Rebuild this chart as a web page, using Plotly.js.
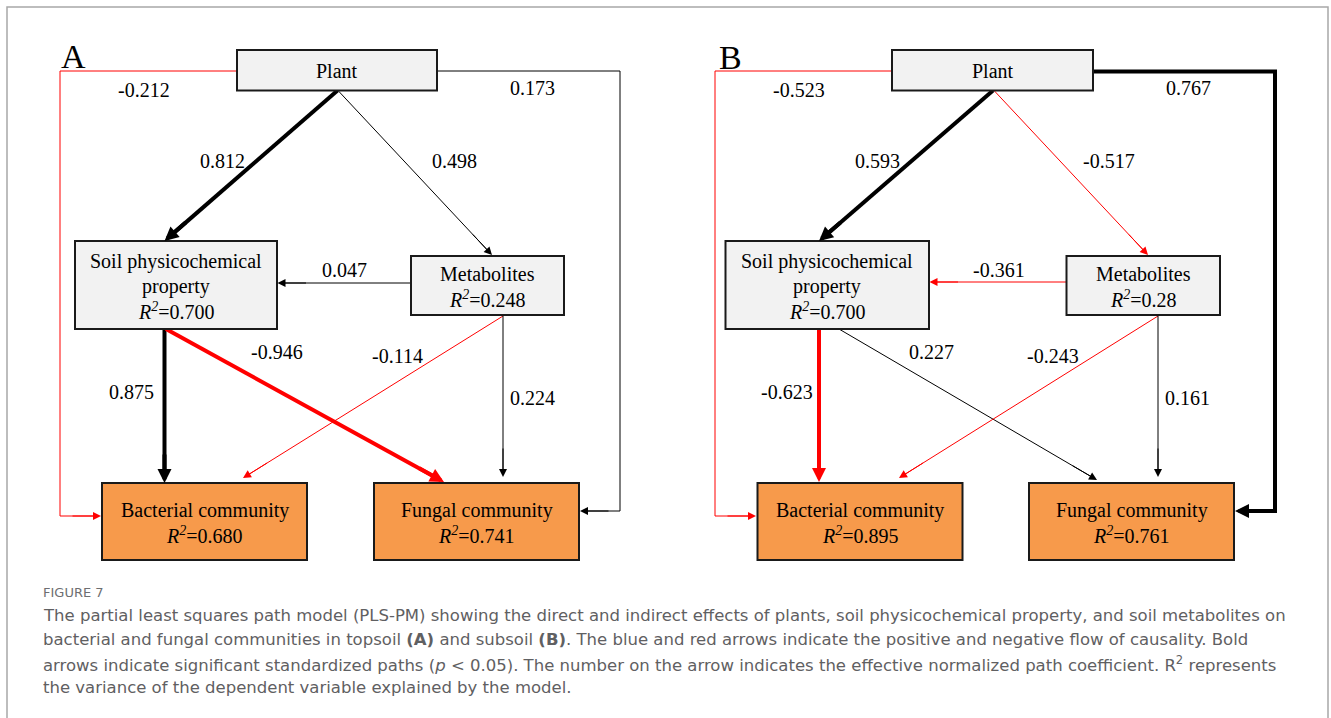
<!DOCTYPE html>
<html>
<head>
<meta charset="utf-8">
<script src="https://cdn.plot.ly/plotly-3.0.1.min.js"></script>
<style>
  html, body { margin: 0; padding: 0; background: #ffffff; }
  #fig { width: 1331px; height: 718px; }
</style>
</head>
<body>
<div id="fig"></div>
<script>
// Latent variables of the PLS path model
const nodeLabelLines = [['Plant'], ['Soil physicochemical', 'property'], ['Metabolites'], ['Bacterial community'], ['Fungal community']];
const nodeIsOutcome = [false, false, false, true, true];

// Explained variance (R²) per latent variable; Plant is exogenous
const r2Topsoil = ['', '0.700', '0.248', '0.680', '0.741'];
const r2Subsoil = ['', '0.700', '0.28', '0.895', '0.761'];

// Structural paths (index into the node list)
const pathFrom = [0, 0, 0, 0, 2, 1, 1, 2, 2];
const pathTo   = [1, 2, 3, 4, 1, 3, 4, 3, 4];

// Standardized path coefficients
const coefTopsoil = ['0.812', '0.498', '-0.212', '0.173', '0.047', '0.875', '-0.946', '-0.114', '0.224'];
const coefSubsoil = ['0.593', '-0.517', '-0.523', '0.767', '-0.361', '-0.623', '0.227', '-0.243', '0.161'];

// Significant paths (p < 0.05) are drawn bold
const sigTopsoil = [true, false, false, false, false, true, true, false, false];
const sigSubsoil = [true, false, false, true, false, true, false, false, false];

// ---- drawing geometry (pixel space of the figure) ----
// thin axis-aligned segments sit on whole coordinates so they render crisp
const panels = [
  {
    letter: 'A', letterPos: [73, 56],
    r2: r2Topsoil, coef: coefTopsoil, sig: sigTopsoil,
    boxes: [[237, 437, 50, 90.5], [75, 277, 241, 329], [411, 564, 256, 315], [102, 307, 483, 560], [374, 579, 483, 560]],
    routes: [
      [[337.5, 90.5], [164.5, 241]],
      [[338, 90.5], [492, 255]],
      [[237, 71], [60, 71], [60, 516], [101, 516]],
      [[437, 71], [620, 71], [620, 511], [580, 511]],
      [[411, 283], [277.5, 283]],
      [[164.5, 329], [164.5, 483]],
      [[166, 329], [444, 482]],
      [[503, 316], [243, 478]],
      [[503, 316], [503, 477]]
    ],
    labels: [[222, 161], [454, 161], [144, 89.5], [532, 87.5], [344, 270], [131.5, 392], [277, 352], [397, 356], [532, 398]]
  },
  {
    letter: 'B', letterPos: [730, 57],
    r2: r2Subsoil, coef: coefSubsoil, sig: sigSubsoil,
    boxes: [[892, 1093, 50, 90.5], [725.5, 929, 241, 329], [1066.5, 1220, 256, 315], [757.5, 962.5, 483, 560], [1029, 1234, 483, 560]],
    routes: [
      [[993, 90.5], [819, 241]],
      [[994, 90.5], [1148, 255]],
      [[892, 71], [715, 71], [715, 516], [756, 516]],
      [[1093, 71.5], [1275, 71.5], [1275, 511], [1235, 511]],
      [[1066.5, 282], [929.5, 282]],
      [[819, 329], [819, 482]],
      [[839, 329], [1097, 480]],
      [[1158, 316], [899, 478]],
      [[1158, 316], [1158, 477]]
    ],
    labels: [[877.5, 161], [1109, 161], [799, 89.5], [1188.5, 87.5], [999, 270], [787, 392], [931.5, 352], [1053, 356], [1187, 398]]
  }
];

const SERIF = 'Liberation Serif, Times New Roman, serif';
const SANS = 'DejaVu Sans, Open Sans, sans-serif';
const NEG = '#ff0000', POS = '#000000';
const BOLD_W = 4, THIN_W = 1;

const traces = [];
const shapes = [];
const annotations = [];

// outer figure frame
shapes.push({ type: 'rect', xref: 'x', yref: 'y', x0: 7, x1: 1328, y0: 7, y1: 760,
  line: { color: '#a8a8a8', width: 1.5 }, fillcolor: 'rgba(0,0,0,0)', layer: 'below' });

panels.forEach(p => {
  // panel letter
  annotations.push({ x: p.letterPos[0], y: p.letterPos[1], xref: 'x', yref: 'y', text: p.letter,
    showarrow: false, xanchor: 'center', yanchor: 'middle', font: { family: SERIF, size: 34, color: '#000' } });

  // paths: lines first, arrowheads on top
  pathFrom.forEach((f, i) => {
    const val = parseFloat(p.coef[i]);
    const color = val < 0 ? NEG : POS;
    const w = p.sig[i] ? BOLD_W : THIN_W;
    const pts = p.routes[i];
    const tip = pts[pts.length - 1];
    const prev = pts[pts.length - 2];
    const dx = tip[0] - prev[0], dy = tip[1] - prev[1];
    const len = Math.hypot(dx, dy);
    const ux = dx / len, uy = dy / len;
    const headLen = p.sig[i] ? 12 : 6;
    const xs = pts.map(q => q[0]);
    const ys = pts.map(q => q[1]);
    xs[xs.length - 1] = tip[0] - ux * headLen;
    ys[ys.length - 1] = tip[1] - uy * headLen;
    traces.push({ type: 'scatter', mode: 'lines', x: xs, y: ys, hoverinfo: 'skip',
      line: { color: color, width: w }, showlegend: false });
    const stub = Math.min(30, len);
    annotations.push({ x: tip[0], y: tip[1], ax: tip[0] - ux * stub, ay: tip[1] - uy * stub,
      xref: 'x', yref: 'y', axref: 'x', ayref: 'y', text: '', showarrow: true,
      arrowhead: 2, arrowsize: p.sig[i] ? 0.7 : 1.6, arrowwidth: w, arrowcolor: color, standoff: 0 });
    // coefficient label
    annotations.push({ x: p.labels[i][0], y: p.labels[i][1], xref: 'x', yref: 'y', text: p.coef[i],
      showarrow: false, xanchor: 'center', yanchor: 'middle', font: { family: SERIF, size: 20, color: '#000' } });
  });

  // latent variable boxes
  p.boxes.forEach((b, n) => {
    shapes.push({ type: 'rect', xref: 'x', yref: 'y', x0: b[0], x1: b[1], y0: b[2], y1: b[3],
      fillcolor: nodeIsOutcome[n] ? '#f79a4b' : '#f2f2f2', line: { color: '#1a1a1a', width: 2 }, layer: 'above' });
    const lines = nodeLabelLines[n].slice();
    if (p.r2[n]) lines.push('<i>R<sup>2</sup></i>=' + p.r2[n]);
    const cy = (b[2] + b[3]) / 2 + 1.2;
    const step = 24.5;
    lines.forEach((t, k) => {
      annotations.push({ x: (b[0] + b[1]) / 2, y: cy + (k - (lines.length - 1) / 2) * step,
        xref: 'x', yref: 'y', text: t, showarrow: false, xanchor: 'center', yanchor: 'middle',
        font: { family: SERIF, size: 20, color: '#000' } });
    });
  });
});

// figure caption
const captionLines = [
  'The partial least squares path model (PLS-PM) showing the direct and indirect effects of plants, soil physicochemical property, and soil metabolites on',
  'bacterial and fungal communities in topsoil <b>(A)</b> and subsoil <b>(B)</b>. The blue and red arrows indicate the positive and negative flow of causality. Bold',
  'arrows indicate significant standardized paths (<i>p</i> &lt; 0.05). The number on the arrow indicates the effective normalized path coefficient. R<sup>2</sup> represents',
  'the variance of the dependent variable explained by the model.'
];
annotations.push({ x: 41, y: 592, xref: 'x', yref: 'y', text: 'FIGURE 7', showarrow: false,
  xanchor: 'left', yanchor: 'middle', font: { family: SANS, size: 13, color: '#6d6e71' } });
captionLines.forEach((t, k) => {
  annotations.push({ x: 41, y: 615 + k * 24.3, xref: 'x', yref: 'y', text: t, showarrow: false,
    xanchor: 'left', yanchor: 'middle', font: { family: SANS, size: 16.5, color: '#5f6062' } });
});

const layout = {
  width: 1331, height: 718,
  margin: { l: 0, r: 0, t: 0, b: 0, pad: 0 },
  paper_bgcolor: '#ffffff', plot_bgcolor: '#ffffff',
  xaxis: { range: [0, 1331], visible: false, fixedrange: true },
  yaxis: { range: [718, 0], visible: false, fixedrange: true },
  showlegend: false,
  shapes: shapes,
  annotations: annotations
};

Plotly.newPlot('fig', traces, layout, { displayModeBar: false, staticPlot: true });
</script>
</body>
</html>
